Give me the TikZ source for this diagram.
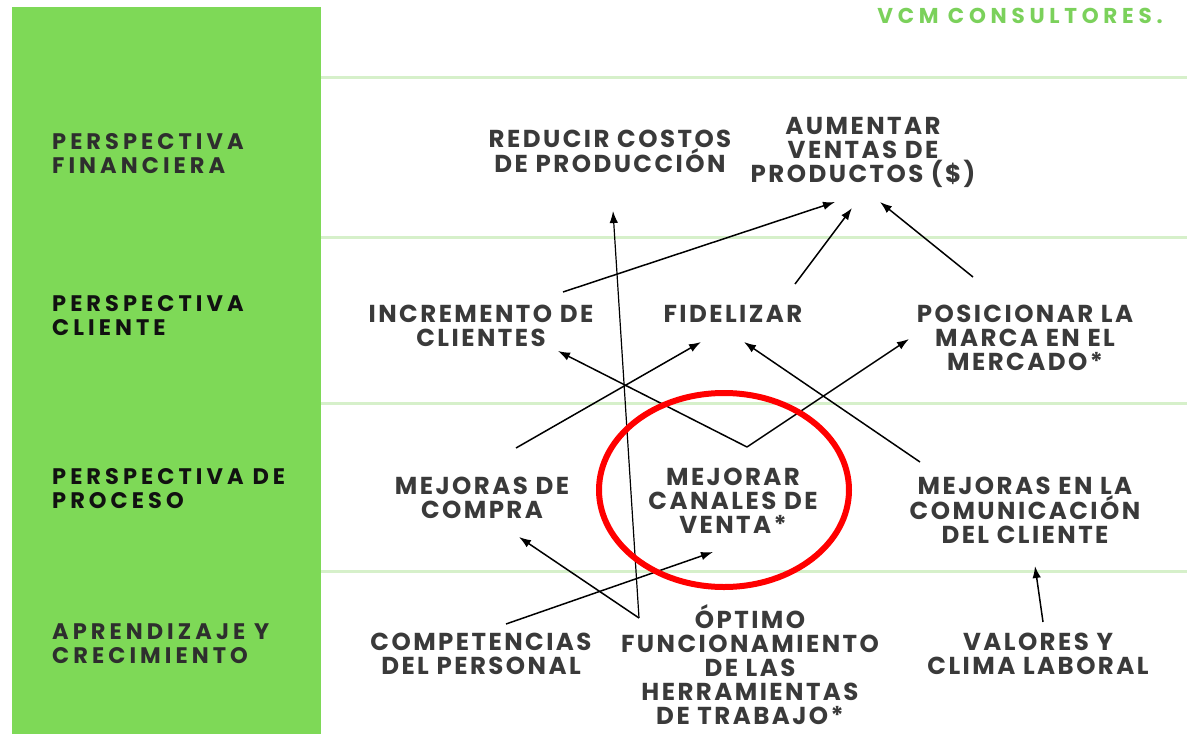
\documentclass[tikz,border=0pt]{standalone}
\usepackage{fontspec}
\usetikzlibrary{arrows.meta}
\newfontfamily\labf[LetterSpace=18]{Poppins}
\newfontfamily\nodf[LetterSpace=10]{Poppins}
\newfontfamily\vcmf[LetterSpace=22]{Poppins}
\definecolor{panelgreen}{HTML}{7ED957}
\definecolor{rulegreen}{HTML}{D6F0CA}
\definecolor{vcmgreen}{HTML}{7BD15B}
\definecolor{txtgray}{HTML}{3A3A3A}
\definecolor{labdark}{HTML}{2E2E2E}
\definecolor{labblack}{HTML}{111111}
\tikzset{
  lab/.style={anchor=west, align=left, inner sep=0pt, font=\labf\bfseries\fontsize{22.5}{24}\selectfont},
  obj/.style={align=center, inner sep=0pt, text=txtgray, font=\nodf\bfseries\fontsize{24.5}{24}\selectfont},
  arr/.style={line width=1.5pt, -{Latex[length=12pt,width=8.5pt]}},
  rule/.style={rulegreen, line width=3pt},
}
\begin{document}
\begin{tikzpicture}[x=1pt,y=-1pt]
\useasboundingbox (0,0) rectangle (1187,734);
\fill[white] (0,0) rectangle (1187,734);
\fill[panelgreen] (12,7) rectangle (321,734);
\foreach \yy in {77,237,403,571} \draw[rule] (321,\yy) -- (1187,\yy);
\node[anchor=center, text=vcmgreen, inner sep=0pt, font=\vcmf\bfseries\fontsize{21.5}{24}\selectfont] (vcm) at (1020,16) {VCM CONSULTORES.};
% left labels
\node[lab, text=labdark] (lfin) at (52,154) {PERSPECTIVA\\FINANCIERA};
\node[lab, text=labblack] (lcli) at (52,316) {PERSPECTIVA\\CLIENTE};
\node[lab, text=labblack] (lpro) at (52,488.5) {PERSPECTIVA DE\\PROCESO};
\node[lab, text=labdark] (lapr) at (52,644) {APRENDIZAJE Y\\CRECIMIENTO};
% objectives
\node[obj] (reducir) at (610,151.5) {REDUCIR COSTOS\\DE PRODUCCIÓN};
\node[obj] (aumentar) at (863,152) {AUMENTAR\\VENTAS DE\\PRODUCTOS (\$)};
\node[obj] (incremento) at (481,326) {INCREMENTO DE\\CLIENTES};
\node[obj] (fidelizar) at (733,314) {FIDELIZAR};
\node[obj] (posicionar) at (1025,338) {POSICIONAR LA\\MARCA EN EL\\MERCADO*};
\node[obj] (compra) at (482,498) {MEJORAS DE\\COMPRA};
\node[obj] (canales) at (733,501) {MEJORAR\\CANALES DE\\VENTA*};
\node[obj] (comunic) at (1025,510) {MEJORAS EN LA\\COMUNICACIÓN\\DEL CLIENTE};
\node[obj] (competencias) at (481,654) {COMPETENCIAS\\DEL PERSONAL};
\node[obj] (optimo) at (750,665) {ÓPTIMO\\FUNCIONAMIENTO\\DE LAS\\HERRAMIENTAS\\DE TRABAJO*};
\node[obj] (valores) at (1038,654) {VALORES Y\\CLIMA LABORAL};
% connector end points
\coordinate (aumA) at (835,202);
\coordinate (aumB) at (852,208);
\coordinate (aumC) at (880,202);
\coordinate (redIn) at (613,211);
\coordinate (incOut) at (563,292);
\coordinate (fidOut) at (795,284);
\coordinate (posOut) at (973,277);
\coordinate (incIn) at (558,351);
\coordinate (fidInL) at (701,342);
\coordinate (fidInR) at (744,342);
\coordinate (posIn) at (909,339);
\coordinate (compOut) at (516,448);
\coordinate (canOut) at (747,447);
\coordinate (comOut) at (920,462);
\coordinate (compIn) at (519,537);
\coordinate (canIn) at (713,552);
\coordinate (comIn) at (1035,566);
\coordinate (optOut) at (639,618);
\coordinate (cptOut) at (506,624);
\coordinate (valOut) at (1043,622);
% connectors
\draw[arr] (incOut) -- (aumA);
\draw[arr] (fidOut) -- (aumB);
\draw[arr] (posOut) -- (aumC);
\draw[arr, line width=1.2pt] (optOut) -- (redIn);
\draw[arr] (optOut) -- (compIn);
\draw[arr] (compOut) -- (fidInL);
\draw[arr] (canOut) -- (incIn);
\draw[arr] (canOut) -- (posIn);
\draw[arr] (comOut) -- (fidInR);
\draw[arr] (cptOut) -- (canIn);
\draw[arr] (valOut) -- (comIn);
% highlight
\draw[red, line width=6pt] (724,490) ellipse [x radius=125, y radius=97];
\end{tikzpicture}
\end{document}
